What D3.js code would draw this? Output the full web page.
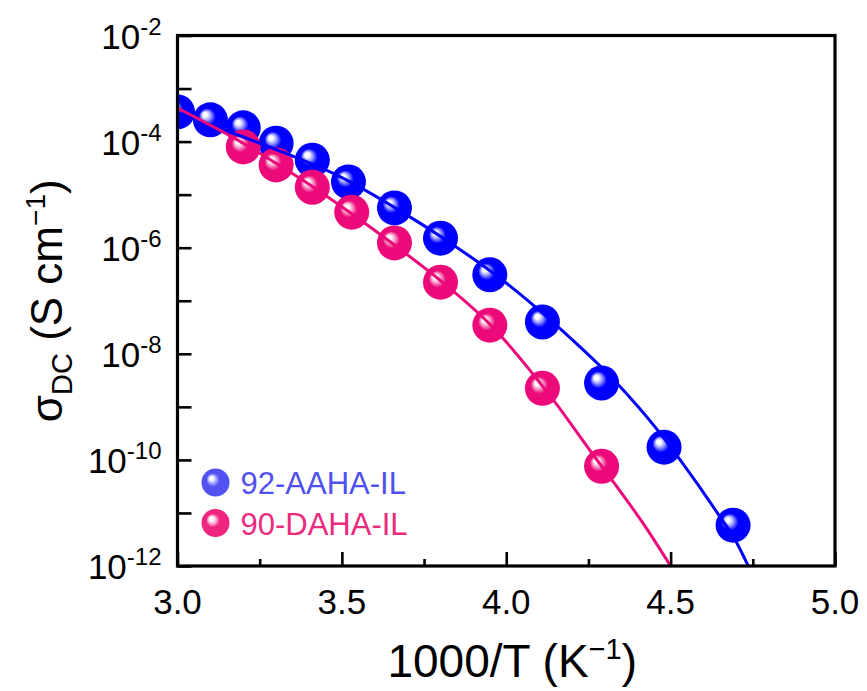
<!DOCTYPE html>
<html>
<head>
<meta charset="utf-8">
<script src="https://cdn.jsdelivr.net/npm/d3@7"></script>
<style>
  body { margin: 0; background: #fff; }
  svg { display: block; font-family: "Liberation Sans", Arial, sans-serif; }
</style>
</head>
<body>
<div id="chart"></div>
<script>
// measured points, x = 1000/T, y = log10(sigma)
var aahaX = [3.00, 3.10, 3.20, 3.30, 3.41, 3.52, 3.66, 3.80, 3.95, 4.11, 4.29, 4.48, 4.69];
var aahaY = [-3.44, -3.59, -3.74, -4.03, -4.35, -4.76, -5.25, -5.82, -6.51, -7.40, -8.55, -9.76, -11.23];
var dahaX = [3.20, 3.30, 3.41, 3.53, 3.66, 3.80, 3.95, 4.11, 4.29];
var dahaY = [-4.10, -4.44, -4.86, -5.33, -5.91, -6.65, -7.46, -8.65, -10.12];

// fit curves
var aahaFitX = [3.000, 3.155, 3.300, 3.494, 3.702, 3.849, 4.001, 4.150, 4.336, 4.458, 4.529, 4.640, 4.701, 4.740];
var aahaFitY = [-3.46, -3.81, -4.15, -4.66, -5.40, -5.99, -6.67, -7.45, -8.55, -9.42, -10.00, -10.98, -11.56, -12.05];
var dahaFitX = [3.000, 3.196, 3.297, 3.409, 3.530, 3.660, 3.800, 3.950, 4.143, 4.265, 4.336, 4.420, 4.505];
var dahaFitY = [-3.37, -4.02, -4.40, -4.84, -5.36, -5.95, -6.62, -7.44, -8.87, -9.91, -10.50, -11.23, -12.05];

var seriesNames = ["92-AAHA-IL", "90-DAHA-IL"];
var xTicks = [3.0, 3.5, 4.0, 4.5, 5.0];
var yTickExps = [-2, -4, -6, -8, -10, -12];

var W = 867, H = 691;
var m = {left: 177.5, right: 32, top: 35.5, bottom: 125};
var pw = W - m.left - m.right, ph = H - m.top - m.bottom;

var svg = d3.select("#chart").append("svg").attr("width", W).attr("height", H);

var x = d3.scaleLinear().domain([3, 5]).range([0, pw]);
var y = d3.scaleLog().domain([1e-12, 1e-2]).range([ph, 0]);

var defs = svg.append("defs");
function sphere(id, base, mid) {
	var g = defs.append("radialGradient").attr("id", id)
		.attr("cx", "50%").attr("cy", "50%").attr("r", "50%")
		.attr("fx", "33%").attr("fy", "33%");
	g.append("stop").attr("offset", "0%").attr("stop-color", "#ffffff");
	g.append("stop").attr("offset", "12%").attr("stop-color", "#ffffff");
	g.append("stop").attr("offset", "28%").attr("stop-color", mid);
	g.append("stop").attr("offset", "48%").attr("stop-color", base);
	g.append("stop").attr("offset", "100%").attr("stop-color", base);
}
sphere("gBlue", "#0000ff", "#9a9aff");
sphere("gPink", "#ec0a7a", "#f6a0c8");
sphere("gBlueL", "#5252f2", "#b0b0ff");
sphere("gPinkL", "#ee2680", "#f9b4d2");

defs.append("clipPath").attr("id", "clip")
	.append("rect").attr("width", pw).attr("height", ph);

var g = svg.append("g").attr("transform", "translate(" + m.left + "," + m.top + ")");

var line = d3.line()
	.x(function (d) { return x(d[0]); })
	.y(function (d) { return y(Math.pow(10, d[1])); })
	.curve(d3.curveMonotoneX);

var plot = g.append("g").attr("clip-path", "url(#clip)");

// spheres first, the fit lines are drawn over them
var r = 17.5;
plot.selectAll(".bl").data(d3.zip(aahaX, aahaY)).enter().append("circle")
	.attr("cx", function (d) { return x(d[0]); })
	.attr("cy", function (d) { return y(Math.pow(10, d[1])); })
	.attr("r", r).attr("fill", "url(#gBlue)");
plot.selectAll(".pk").data(d3.zip(dahaX, dahaY)).enter().append("circle")
	.attr("cx", function (d) { return x(d[0]); })
	.attr("cy", function (d) { return y(Math.pow(10, d[1])); })
	.attr("r", r).attr("fill", "url(#gPink)");

plot.append("path")
	.datum(d3.zip(aahaFitX, aahaFitY))
	.attr("d", line).attr("fill", "none")
	.attr("stroke", "#0000ff").attr("stroke-width", 3);
plot.append("path")
	.datum(d3.zip(dahaFitX, dahaFitY))
	.attr("d", line).attr("fill", "none")
	.attr("stroke", "#ec0a7a").attr("stroke-width", 3);

// axes: ticks point inward
var minorY = y.ticks().filter(function (v) {
	var l = Math.log10(v);
	return Math.abs(l - Math.round(l)) > 1e-6;
});
var majorY = d3.range(-12, -1).map(function (e) { return Math.pow(10, e); });

g.append("g").attr("class", "ax")
	.call(d3.axisLeft(y).tickValues(minorY).tickSize(-9).tickFormat(""));
g.append("g").attr("class", "ax")
	.call(d3.axisLeft(y).tickValues(majorY).tickSize(-14).tickFormat(""));

var xMinor = [3.25, 3.75, 4.25, 4.75];
g.append("g").attr("class", "ax").attr("transform", "translate(0," + ph + ")")
	.call(d3.axisBottom(x).tickValues(xMinor).tickSize(-7).tickFormat(""));
g.append("g").attr("class", "ax").attr("transform", "translate(0," + ph + ")")
	.call(d3.axisBottom(x).tickValues(xTicks).tickSize(-14).tickFormat(""));

g.selectAll(".ax .domain").remove();
g.selectAll(".ax line").attr("stroke", "#000").attr("stroke-width", 2.6);

g.append("rect").attr("width", pw).attr("height", ph)
	.attr("fill", "none").attr("stroke", "#000").attr("stroke-width", 3.2);

// tick labels
g.selectAll(".xl").data(xTicks).enter().append("text")
	.attr("x", function (d) { return x(d); })
	.attr("y", ph + 48)
	.attr("text-anchor", "middle")
	.attr("font-size", 35)
	.text(function (d) { return d.toFixed(1); });

var yl = g.selectAll(".yl").data(yTickExps).enter().append("text")
	.attr("x", -16)
	.attr("y", function (d) { return y(Math.pow(10, d)) + 13; })
	.attr("text-anchor", "end")
	.attr("font-size", 35);
yl.append("tspan").text("10");
yl.append("tspan").attr("dy", -14).attr("font-size", 24).text(function (d) { return "-" + (-d); });

// axis titles
var xt = svg.append("text")
	.attr("x", m.left + pw / 2 + 6).attr("y", 677)
	.attr("text-anchor", "middle").attr("font-size", 46);
xt.append("tspan").text("1000/T (K");
xt.append("tspan").attr("dy", -18).attr("font-size", 29).text("\u22121");
xt.append("tspan").attr("dy", 18).text(")");

var ytl = svg.append("text")
	.attr("transform", "translate(62," + (m.top + ph / 2) + ") rotate(-90)")
	.attr("text-anchor", "middle").attr("font-size", 44);
ytl.append("tspan").text("\u03c3");
ytl.append("tspan").attr("dy", 10).attr("font-size", 29).text("DC");
ytl.append("tspan").attr("dy", -10).text(" (S cm");
ytl.append("tspan").attr("dy", -17).attr("font-size", 28).text("\u22121");
ytl.append("tspan").attr("dy", 17).text(")");

// legend
var legColors = ["url(#gBlueL)", "url(#gPinkL)"];
var legText = ["#5050f0", "#ec2a7e"];
var leg = g.selectAll(".leg").data(seriesNames).enter().append("g")
	.attr("transform", function (d, i) { return "translate(38," + (447 + i * 40.5) + ")"; });
leg.append("circle").attr("r", 14).attr("fill", function (d, i) { return legColors[i]; });
leg.append("text").attr("x", 25).attr("y", 11.5)
	.attr("font-size", 31)
	.attr("fill", function (d, i) { return legText[i]; })
	.text(function (d) { return d; });
</script>
</body>
</html>
